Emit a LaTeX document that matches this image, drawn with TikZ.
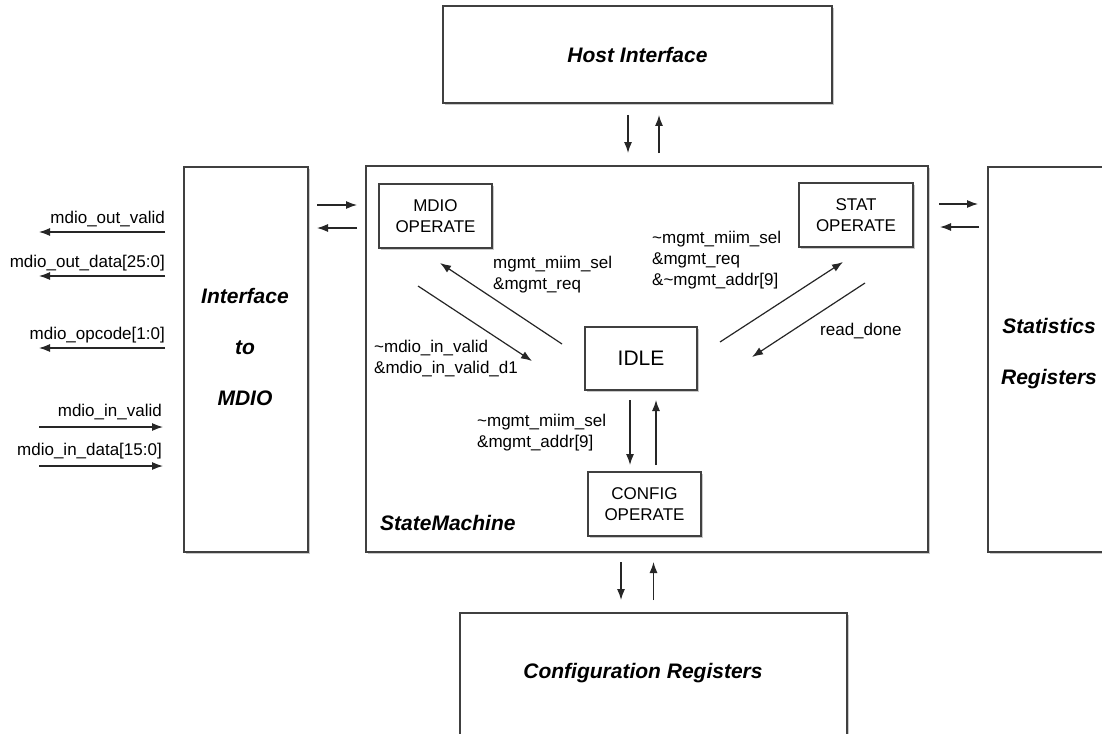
\documentclass[tikz,border=0pt]{standalone}
\usepackage{fontspec}
\setmainfont{Liberation Sans}
\usetikzlibrary{arrows.meta,positioning,shadows}

\tikzset{
    block/.style={draw=black!75, line width=1.3pt, fill=white, inner sep=0pt, outer sep=0pt,
        drop shadow={shadow xshift=2pt, shadow yshift=-2pt, fill=black!35, opacity=0.6}},
    state/.style={block, font=\fontsize{17}{21}\selectfont, align=center},
    title/.style={font=\fontsize{21}{25}\selectfont\bfseries\itshape, inner sep=0pt},
    sig/.style={font=\fontsize{17}{21}\selectfont, align=left, inner sep=0pt},
    arr/.style={-{Latex[length=11pt,width=8pt]}, line width=1.2pt, draw=black!85},
    link/.style={arr, shorten <=11pt, shorten >=11pt},
}

\begin{document}
\begin{tikzpicture}[x=1pt, y=-1pt]
    % page frame
    \fill[white] (0,0) rectangle (1102,733);
    \useasboundingbox (0,0) rectangle (1102,733);

    % Outer blocks
    \node[block, title, minimum width=389pt, minimum height=97pt] (host) at (637.5,54.5) {Host Interface};
    \node[block, minimum width=387pt, minimum height=160pt, anchor=north] (cfg) at (653.5,613) {};
    \node[title] (cfgtxt) at (643,673) {Configuration Registers};
    \node[block, minimum width=124pt, minimum height=385pt] (mdioif) at (246,359.5) {};
    \node[title, align=center, font=\fontsize{21}{51}\selectfont\bfseries\itshape] (mdioiftxt) at (245,347) {Interface\\to\\MDIO};
    \node[block, minimum width=200pt, minimum height=385pt, anchor=north west] (statreg) at (988,167) {};
    \node[title, align=center, font=\fontsize{21}{51}\selectfont\bfseries\itshape] (statregtxt) at (1049,354) {Statistics\\Registers};
    \node[block, minimum width=562pt, minimum height=386pt] (sm) at (647,359) {};
    \node[title, anchor=base west] (smtxt) at (380,530) {StateMachine};

    % States
    \node[state, minimum width=113pt, minimum height=64pt] (mdioop) at (435.5,216) {MDIO\\OPERATE};
    \node[state, minimum width=114pt, minimum height=64pt] (statop) at (856,215) {STAT\\OPERATE};
    \node[state, minimum width=112pt, minimum height=63pt, font=\fontsize{21}{25}\selectfont] (idle) at (641,358.5) {IDLE};
    \node[state, minimum width=113pt, minimum height=64pt] (cfgop) at (644.5,504) {CONFIG\\OPERATE};

    % Transition conditions (base = last line)
    \node[sig, anchor=base west] (gomdio) at (493,289) {mgmt\_miim\_sel\\\&mgmt\_req};
    \node[sig, anchor=base west] (gostat) at (652,285) {\textasciitilde mgmt\_miim\_sel\\\&mgmt\_req\\\&\textasciitilde mgmt\_addr[9]};
    \node[sig, anchor=base west] (readdone) at (820,335) {read\_done};
    \node[sig, anchor=base west] (mdiodone) at (374,373) {\textasciitilde mdio\_in\_valid\\\&mdio\_in\_valid\_d1};
    \node[sig, anchor=base west] (gocfg) at (477,447) {\textasciitilde mgmt\_miim\_sel\\\&mgmt\_addr[9]};

    % MDIO signals
    \foreach \y/\txt/\nm in {232/mdio\_out\_valid/outvalid, 276/mdio\_out\_data[25:0]/outdata, 348/mdio\_opcode[1:0]/opcode}{
        \node[sig, anchor=base east] (\nm) at (165,\y-9) {\txt};
        \draw[arr] (165,\y) -- (39,\y);
    }
    \foreach \y/\txt/\nm in {427/mdio\_in\_valid/invalid, 466/mdio\_in\_data[15:0]/indata}{
        \node[sig, anchor=base east] (\nm) at (162,\y-11) {\txt};
        \draw[arr] (39,\y) -- (163,\y);
    }

    % Block to block arrows
    \draw[link, shorten <=12pt, shorten >=13pt] ([xshift=-9.5pt]host.south) -- ([xshift=-9.5pt]host.south |- sm.north);
    \draw[link, shorten <=13pt, shorten >=12pt] ([xshift=21.5pt]host.south |- sm.north) -- ([xshift=21.5pt]host.south);
    \draw[link, shorten <=10pt, shorten >=13pt] ([xshift=-32.5pt]cfg.north |- sm.south) -- ([xshift=-32.5pt]cfg.north);
    \draw[link, shorten <=13pt, shorten >=10pt] (cfg.north) -- (cfg.north |- sm.south);
    \draw[link, shorten <=9pt, shorten >=9pt] (mdioif.east |- 0,205) -- (sm.west |- 0,205);
    \draw[link, shorten <=9pt, shorten >=9pt] (sm.west |- 0,228) -- (mdioif.east |- 0,228);
    \draw[link, shorten <=11pt, shorten >=10pt] (sm.east |- 0,204) -- (statreg.west |- 0,204);
    \draw[link, shorten <=9pt, shorten >=12pt] (statreg.west |- 0,227) -- (sm.east |- 0,227);

    % State transitions
    \coordinate (m1) at (418,286); \coordinate (m2) at (532,361);
    \coordinate (m3) at (562,344); \coordinate (m4) at (440,263);
    \coordinate (s1) at (720,342); \coordinate (s2) at (843,262);
    \coordinate (s3) at (865,283); \coordinate (s4) at (752,357);
    \draw[arr] (m1) -- (m2);
    \draw[arr] (m3) -- (m4);
    \draw[arr] (s1) -- (s2);
    \draw[arr] (s3) -- (s4);
    \draw[link, shorten <=10pt, shorten >=7pt] ([xshift=-11pt]idle.south) -- ([xshift=-11pt]idle.south |- cfgop.north);
    \draw[link, shorten <=7pt, shorten >=10pt] ([xshift=15pt]idle.south |- cfgop.north) -- ([xshift=15pt]idle.south);

\end{tikzpicture}
\end{document}
